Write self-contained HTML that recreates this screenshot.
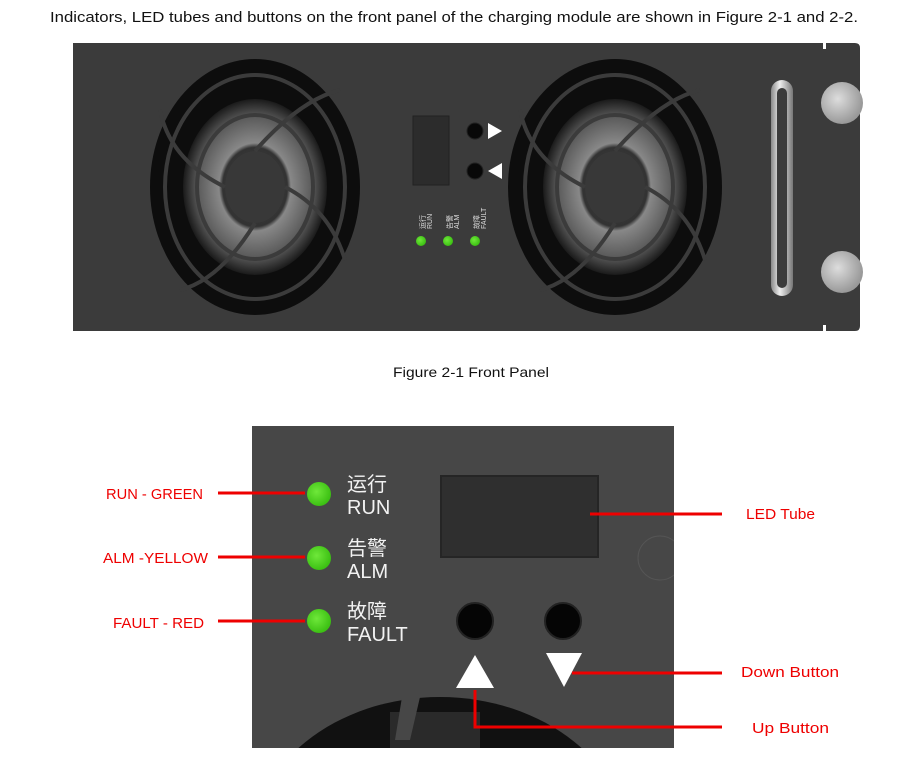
<!DOCTYPE html>
<html><head><meta charset="utf-8"><style>
html,body{margin:0;padding:0;background:#fff;width:909px;height:765px;overflow:hidden}
svg{display:block}
svg text{font-family:"Liberation Sans","Noto Sans CJK SC",sans-serif}
</style></head><body>
<svg width="909" height="765" viewBox="0 0 909 765" xmlns="http://www.w3.org/2000/svg">
<defs>
<radialGradient id="hub" cx="50%" cy="50%" r="50%">
<stop offset="0" stop-color="#3a3a3a"/><stop offset="0.45" stop-color="#333"/><stop offset="0.5" stop-color="#888"/><stop offset="0.8" stop-color="#5a5a5a"/><stop offset="1" stop-color="#1a1a1a"/>
</radialGradient>
<radialGradient id="led" cx="40%" cy="40%" r="60%"><stop offset="0" stop-color="#6fe83a"/><stop offset="1" stop-color="#3cc013"/></radialGradient>
<radialGradient id="knob" cx="40%" cy="40%" r="60%"><stop offset="0" stop-color="#ddd"/><stop offset="1" stop-color="#999"/></radialGradient>
<linearGradient id="handle" x1="0" x2="1"><stop offset="0" stop-color="#888"/><stop offset="0.4" stop-color="#eee"/><stop offset="1" stop-color="#777"/></linearGradient>
</defs>
<text x="50" y="22" font-size="15" fill="#111" textLength="808" lengthAdjust="spacingAndGlyphs">Indicators, LED tubes and buttons on the front panel of the charging module are shown in Figure 2-1 and 2-2.</text>

<path d="M73 43 H855 Q860 43 860 48 V326 Q860 331 855 331 H73 Z" fill="#3b3b3b"/>
<rect x="823" y="43" width="3" height="6" fill="#fff"/>
<rect x="823" y="325" width="3" height="6" fill="#fff"/>
<g>
<ellipse cx="255" cy="187" rx="105" ry="128" fill="#0d0d0d"/>
<ellipse cx="255" cy="187" rx="72" ry="88" fill="url(#hub)"/>
<ellipse cx="255" cy="187" rx="30" ry="36" fill="#383838"/>
<g fill="none" stroke="#3b3b3b" stroke-width="4">
<ellipse cx="255" cy="187" rx="90" ry="112"/><ellipse cx="255" cy="187" rx="58" ry="72"/>
<path d="M255 151 Q300 100 340 90 M285 187 Q330 210 345 260 M255 223 Q220 280 180 290 M225 187 Q170 160 160 110"/>
</g>
</g>
<g>
<ellipse cx="615" cy="187" rx="107" ry="128" fill="#0d0d0d"/>
<ellipse cx="615" cy="187" rx="72" ry="88" fill="url(#hub)"/>
<ellipse cx="615" cy="187" rx="30" ry="36" fill="#383838"/>
<g fill="none" stroke="#3b3b3b" stroke-width="4">
<ellipse cx="615" cy="187" rx="90" ry="112"/><ellipse cx="615" cy="187" rx="58" ry="72"/>
<path d="M615 151 Q660 100 700 90 M645 187 Q690 210 705 260 M615 223 Q580 280 540 290 M585 187 Q530 160 520 110"/>
</g>
</g>
<rect x="413" y="116" width="36" height="69" fill="#2c2c2c" stroke="#222"/>
<circle cx="475" cy="131" r="8" fill="#080808" stroke="#222"/>
<circle cx="475" cy="171" r="8" fill="#080808" stroke="#222"/>
<polygon points="488,123 502,131 488,139" fill="#fff"/>
<polygon points="502,163 488,171 502,179" fill="#fff"/>
<g fill="#ddd" font-size="7">
<text transform="translate(425,229) rotate(-90)">运行</text><text transform="translate(432,229) rotate(-90)">RUN</text>
<text transform="translate(452,229) rotate(-90)">告警</text><text transform="translate(459,229) rotate(-90)">ALM</text>
<text transform="translate(479,229) rotate(-90)">故障</text><text transform="translate(486,229) rotate(-90)">FAULT</text>
</g>
<circle cx="421" cy="241" r="5" fill="url(#led)"/>
<circle cx="448" cy="241" r="5" fill="url(#led)"/>
<circle cx="475" cy="241" r="5" fill="url(#led)"/>
<rect x="771" y="80" width="22" height="216" rx="11" fill="url(#handle)"/>
<rect x="777" y="88" width="10" height="200" rx="5" fill="#3b3b3b"/>
<circle cx="842" cy="103" r="21" fill="url(#knob)"/>
<circle cx="842" cy="272" r="21" fill="url(#knob)"/>

<text x="471" y="377" font-size="14" fill="#111" text-anchor="middle" textLength="156" lengthAdjust="spacingAndGlyphs">Figure 2-1 Front Panel</text>

<rect x="252" y="426" width="422" height="322" fill="#474747"/>
<clipPath id="bc"><rect x="252" y="426" width="422" height="322"/></clipPath>
<g clip-path="url(#bc)">
<ellipse cx="440" cy="850" rx="190" ry="153" fill="#111"/>
<rect x="390" y="712" width="90" height="40" fill="#2a2a2a"/>
<path d="M402 697 L420 697 L410 740 L395 740 Z" fill="#474747"/>
<circle cx="660" cy="558" r="22" fill="none" stroke="#555"/>
</g>
<circle cx="319" cy="494" r="12" fill="url(#led)"/>
<circle cx="319" cy="558" r="12" fill="url(#led)"/>
<circle cx="319" cy="621" r="12" fill="url(#led)"/>
<g fill="#f2f2f2" font-size="20">
<text x="347" y="491">运行</text><text x="347" y="514">RUN</text>
<text x="347" y="555">告警</text><text x="347" y="578">ALM</text>
<text x="347" y="618">故障</text><text x="347" y="641">FAULT</text>
</g>
<rect x="441" y="476" width="157" height="81" fill="#2f2f2f" stroke="#252525" stroke-width="2"/>
<circle cx="475" cy="621" r="18" fill="#050505" stroke="#222" stroke-width="2"/>
<circle cx="563" cy="621" r="18" fill="#050505" stroke="#222" stroke-width="2"/>
<polygon points="475,655 494,688 456,688" fill="#fff"/>
<polygon points="546,653 582,653 564,687" fill="#fff"/>

<g stroke="#ee0000" stroke-width="3" fill="none">
<path d="M218 493 H305"/><path d="M218 557 H305"/><path d="M218 621 H305"/>
<path d="M590 514 H722"/><path d="M572 673 H722"/><path d="M475 690 V727 H722"/>
</g>
<g fill="#ee0000" font-size="15">
<text x="106" y="499" textLength="97" lengthAdjust="spacingAndGlyphs">RUN - GREEN</text>
<text x="103" y="563" textLength="105" lengthAdjust="spacingAndGlyphs">ALM -YELLOW</text>
<text x="113" y="628" textLength="91" lengthAdjust="spacingAndGlyphs">FAULT - RED</text>
<text x="746" y="519" textLength="69" lengthAdjust="spacingAndGlyphs">LED Tube</text>
<text x="741" y="677" textLength="98" lengthAdjust="spacingAndGlyphs">Down Button</text>
<text x="752" y="733" textLength="77" lengthAdjust="spacingAndGlyphs">Up Button</text>
</g>
</svg>
</body></html>
